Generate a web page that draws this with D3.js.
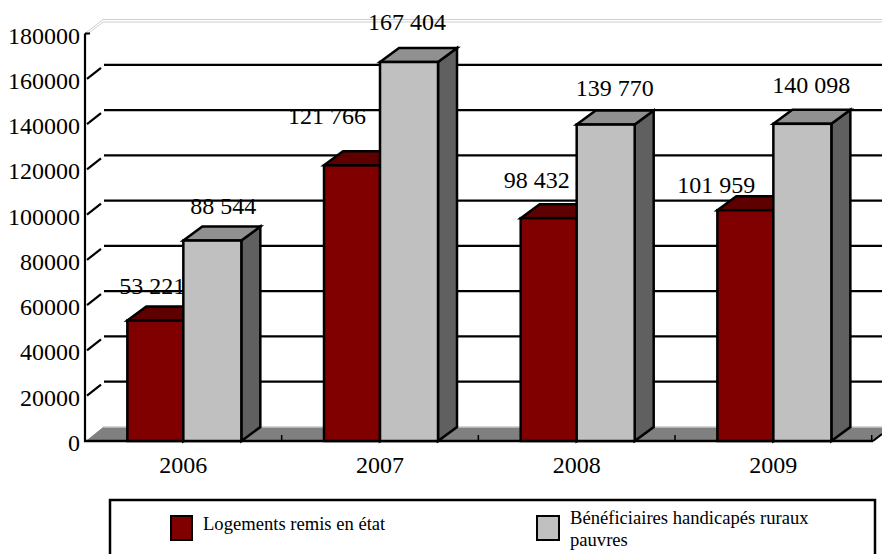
<!DOCTYPE html>
<html>
<head>
  <meta charset="utf-8">
  <title>Logements remis en état</title>
  <script src="https://d3js.org/d3.v7.min.js"></script>
  <style>
    html, body { margin: 0; padding: 0; background: #fff; overflow: hidden; }
    text { font-family: "Liberation Serif", "Times New Roman", serif; fill: #000; }
  </style>
</head>
<body>
<script>
var years = ['2006', '2007', '2008', '2009'];
var logements = [53221, 121766, 98432, 101959];
var beneficiaires = [88544, 167404, 139770, 140098];
var logementsLabels = ['53 221', '121 766', '98 432', '101 959'];
var beneficiairesLabels = ['88 544', '167 404', '139 770', '140 098'];
var yTicks = [0, 20000, 40000, 60000, 80000, 100000, 120000, 140000, 160000, 180000];
var legendNames = ['Logements remis en état', 'Bénéficiaires handicapés ruraux', 'pauvres'];

var width = 882, height = 554;
var depthX = 19, depthY = 14;

var svg = d3.select('body').append('svg')
  .attr('width', width)
  .attr('height', height)
  .style('display', 'block');

var x = d3.scaleBand().domain(years).range([85, 871.7]);
var y = d3.scaleLinear().domain([0, 180000]).range([441, 33.5]);
var redW = 56, greyW = 58;

// back wall
var grid = svg.append('g');
yTicks.slice(1, -1).forEach(function(t) {
  grid.append('line')
    .attr('x1', 104).attr('x2', width)
    .attr('y1', y(t) - depthY).attr('y2', y(t) - depthY)
    .attr('stroke', '#000').attr('stroke-width', 2.2);
  grid.append('line')
    .attr('x1', 87).attr('x2', 101)
    .attr('y1', y(t)).attr('y2', y(t) - 11)
    .attr('stroke', '#000').attr('stroke-width', 2.2);
});

// top of the wall, thin grey double line
[0, 2.5].forEach(function(o) {
  grid.append('path')
    .attr('d', d3.line()([[85, y(180000) + o], [103, y(180000) - depthY + o], [width, y(180000) - depthY + o]]))
    .attr('fill', 'none').attr('stroke', '#cfcfcf').attr('stroke-width', 1);
});

// floor
svg.append('path')
  .attr('d', d3.line()([[85, y(0)], [103, y(0) - depthY], [width, y(0) - depthY], [width, y(0) - 6], [873, y(0)]]) + 'Z')
  .attr('fill', '#808080');
svg.append('line')
  .attr('x1', 103).attr('x2', width)
  .attr('y1', y(0) - depthY).attr('y2', y(0) - depthY)
  .attr('stroke', '#c8c8c8').attr('stroke-width', 1.5);
svg.append('line')
  .attr('x1', 86).attr('x2', 102)
  .attr('y1', y(0) - 1).attr('y2', y(0) - depthY)
  .attr('stroke', '#fff').attr('stroke-width', 1.2);

// axes
svg.append('line')
  .attr('x1', 85).attr('x2', 85)
  .attr('y1', y(180000)).attr('y2', y(0) + 1)
  .attr('stroke', '#000').attr('stroke-width', 2.2);
svg.append('line')
  .attr('x1', 84).attr('x2', 873)
  .attr('y1', y(0)).attr('y2', y(0))
  .attr('stroke', '#000').attr('stroke-width', 2.5);
svg.append('line')
  .attr('x1', 85).attr('x2', 90)
  .attr('y1', y(180000)).attr('y2', y(180000))
  .attr('stroke', '#000').attr('stroke-width', 2);
svg.append('line')
  .attr('x1', 873).attr('x2', 882)
  .attr('y1', y(0)).attr('y2', y(0) - 7)
  .attr('stroke', '#000').attr('stroke-width', 2);
years.forEach(function(d) {
  var tx = x(d) + x.bandwidth();
  svg.append('line')
    .attr('x1', tx).attr('x2', tx)
    .attr('y1', y(0)).attr('y2', y(0) - 6)
    .attr('stroke', '#000').attr('stroke-width', 1.5);
});

function bar3d(x0, w, value, front, top, side) {
  var yt = y(value), yb = y(0), g = svg.append('g')
    .attr('stroke', '#000').attr('stroke-width', 2.5).attr('stroke-linejoin', 'miter');
  var line = d3.line();
  g.append('path').attr('fill', side)
    .attr('d', line([[x0 + w, yt], [x0 + w + depthX, yt - depthY], [x0 + w + depthX, yb - depthY], [x0 + w, yb]]) + 'Z');
  g.append('path').attr('fill', top)
    .attr('d', line([[x0, yt], [x0 + depthX, yt - depthY], [x0 + w + depthX, yt - depthY], [x0 + w, yt]]) + 'Z');
  g.append('rect').attr('fill', front)
    .attr('x', x0).attr('y', yt).attr('width', w).attr('height', yb - yt);
}

years.forEach(function(d, i) {
  var c = x(d) + x.bandwidth() / 2;
  bar3d(c - redW, redW, logements[i], '#800000', '#5f0000', '#400000');
  bar3d(c, greyW, beneficiaires[i], '#c0c0c0', '#909090', '#606060');
});

// tick labels
svg.append('g').selectAll('text').data(yTicks).enter().append('text')
  .attr('x', 80)
  .attr('y', function(d) { return y(d) + 10; })
  .attr('text-anchor', 'end')
  .attr('font-size', 24)
  .text(function(d) { return d; });

svg.append('g').selectAll('text').data(years).enter().append('text')
  .attr('x', function(d) { return x(d) + x.bandwidth() / 2; })
  .attr('y', 473)
  .attr('text-anchor', 'middle')
  .attr('font-size', 24)
  .text(function(d) { return d; });

// value labels were placed by hand in the source, nudged per bar
var redNudge = [[-31, -27], [-53, -41], [-40, -30], [-57, -17]];
var greyNudge = [[40, -27], [27, -32], [38, -29], [38, -31]];
years.forEach(function(d, i) {
  var c = x(d) + x.bandwidth() / 2;
  svg.append('text')
    .attr('x', c + redNudge[i][0])
    .attr('y', y(logements[i]) + redNudge[i][1])
    .attr('text-anchor', 'middle').attr('font-size', 24)
    .text(logementsLabels[i]);
  svg.append('text')
    .attr('x', c + greyNudge[i][0])
    .attr('y', y(beneficiaires[i]) + greyNudge[i][1])
    .attr('text-anchor', 'middle').attr('font-size', 24)
    .text(beneficiairesLabels[i]);
});

// legend
var legend = svg.append('g');
legend.append('rect')
  .attr('x', 110).attr('y', 500).attr('width', 765).attr('height', 70)
  .attr('fill', 'none').attr('stroke', '#000').attr('stroke-width', 2.5);
legend.append('rect')
  .attr('x', 171).attr('y', 516).attr('width', 21).attr('height', 24)
  .attr('fill', '#800000').attr('stroke', '#000').attr('stroke-width', 2);
legend.append('rect')
  .attr('x', 537).attr('y', 516).attr('width', 22).attr('height', 24)
  .attr('fill', '#c0c0c0').attr('stroke', '#000').attr('stroke-width', 2);
legend.append('text').attr('x', 203).attr('y', 530).attr('font-size', 18.6).text(legendNames[0]);
legend.append('text').attr('x', 570).attr('y', 524).attr('font-size', 18.6).text(legendNames[1]);
legend.append('text').attr('x', 570).attr('y', 546).attr('font-size', 18.6).text(legendNames[2]);
</script>
</body>
</html>
